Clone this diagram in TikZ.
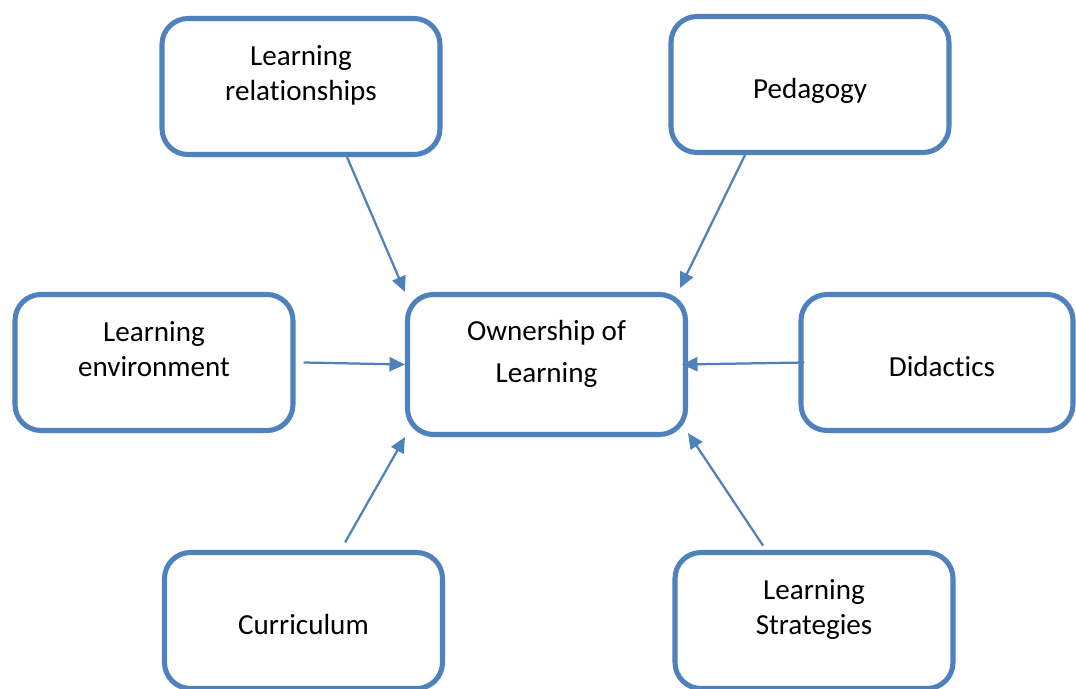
\documentclass[tikz,border=0pt]{standalone}
\usepackage{fontspec}
\setmainfont{Carlito}[Ligatures=NoCommon]
\usepackage{tikz}
\usetikzlibrary{arrows.meta,calc}
\definecolor{boxblue}{HTML}{4F81BD}
\newcommand{\boxtext}[2][20.6pt]{\raisebox{0pt}[#1][0pt]{\begin{tabular}[b]{@{}c@{}}#2\end{tabular}}}
\tikzset{
  factor/.style={draw=boxblue,line width=3.6pt,rounded corners=0.65cm,
    minimum width=6.95cm,minimum height=3.4cm,align=center,
    font=\fontsize{20.7}{25}\selectfont},
  link/.style={draw=boxblue,line width=1.6pt,-{Triangle[length=11pt,width=10pt]}}
}

\begin{document}
\begin{tikzpicture}
      \useasboundingbox (0,0) rectangle (26.9,-17.2);
      \node [factor,minimum height=3.5cm,font=\fontsize{20.7}{29.9}\selectfont] (own) at (13.6625,-9.1125) {\boxtext[25.6pt]{Ownership of\\Learning}};
      \node [factor,left of=own,xshift=-5.1375cm,yshift=6.95cm] (rel) {\boxtext{Learning\\relationships}};
      \node [factor,right of=own,xshift=5.5875cm,yshift=7cm] (ped) {\boxtext{Pedagogy}};
      \node [factor,left of=own,xshift=-8.8125cm,yshift=0.05cm] (env) {\boxtext{Learning\\environment}};
      \node [factor,right of=own,xshift=8.7625cm,yshift=0.05cm,minimum width=6.8cm] (did) {\boxtext{\hspace{0.25cm}Didactics}};
      \node [factor,left of=own,xshift=-5.075cm,yshift=-6.4cm] (cur) {\boxtext{Curriculum}};
      \node [factor,right of=own,xshift=5.6875cm,yshift=-6.4cm] (str) {\boxtext{Learning\\Strategies}};

      \draw[link] ($(rel.south)+(1.15,0)$) -- (own.north west);
      \draw[link] ($(ped.south)+(-1.625,0)$) -- ($(own.north east)+(-0.2,0.1)$);
      \draw[link] ($(env.east)+(0.2,0)$) -- (own.west);
      \draw[link] ($(did.west)+(0.15,0)$) -- ($(own.east)+(-0.15,0)$);
      \draw[link] ($(cur.north)+(1.04,0.19)$) -- (own.south west);
      \draw[link] ($(str.north)+(-1.275,0.11)$) -- ($(own.south east)+(0,0.1)$);
    \end{tikzpicture}
\end{document}
